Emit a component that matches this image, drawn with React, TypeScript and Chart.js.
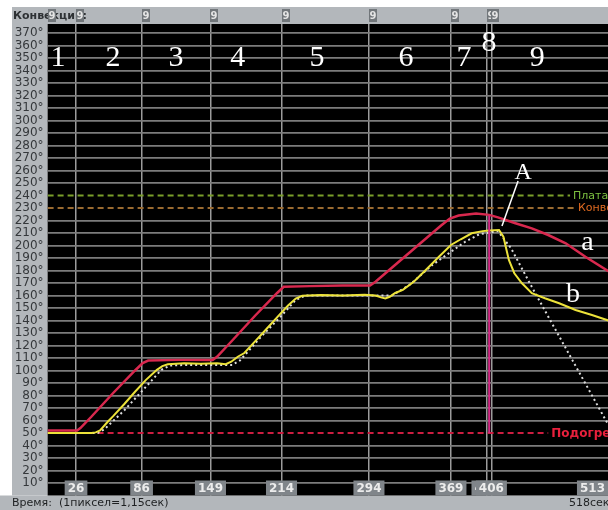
import React, { useEffect, useRef } from "react";
import { Chart, registerables } from "chart.js";

Chart.register(...registerables);

// ---- data (seconds, °C) ----
const redTimes = [0, 27, 30, 40, 60, 80, 87, 92, 120, 151, 155, 170, 190, 210, 216, 240, 270, 295, 300, 320, 340, 360, 368, 376, 392, 404, 412, 428, 443, 458, 474, 492, 513];
const redTemps = [52, 52, 54, 63, 82, 100, 106, 108, 108.5, 108.5, 111, 125, 144, 162, 167, 167.5, 168, 168, 171, 186, 201, 216, 221.5, 224, 225.5, 224.5, 222.5, 217.8, 213.7, 208.4, 201.8, 191, 179.5];

const yellowTimes = [0, 40, 44, 48, 55, 60, 70, 80, 90, 100, 105, 110, 125, 140, 155, 163, 168, 174, 180, 190, 200, 212, 220, 227, 233, 250, 270, 290, 300, 305, 309, 313, 318, 325, 335, 346, 358, 369, 378, 388, 398, 404, 413, 417, 422, 427, 434, 443, 455, 468, 483, 498, 513];
const yellowTemps = [50, 50, 50.5, 52, 59, 63.5, 73, 83, 92.5, 100.5, 103.5, 105, 105.8, 105.5, 105.8, 105, 107, 111, 114, 123.5, 133, 144.5, 152, 157.5, 159.8, 160.3, 160, 160.5, 160, 158.5, 157.7, 159, 162, 164.5, 171, 180.4, 191, 200.4, 205, 209.8, 211.5, 212, 212.4, 207, 188.4, 177.8, 169.8, 161.8, 157.8, 153.8, 148.4, 144.4, 140];

const profileTimes = [0, 46, 52, 70, 90, 104, 112, 130, 150, 169, 176, 194, 212, 227, 236, 260, 290, 315, 331, 352, 382, 395, 412, 424, 440, 460, 480, 500, 513];
const profileTemps = [50, 50, 53, 68, 87, 100.5, 104, 104.5, 104.5, 104.5, 108, 125.8, 142, 156.4, 160, 160, 160, 160, 168.4, 184.4, 203, 209, 211.5, 197.8, 171.7, 140, 108.5, 77, 56.5];

const cutoffTimes = [404, 404];
const cutoffTemps = [224, 50];

const pointerTimes = [430.4, 415.7];
const pointerTemps = [251.6, 215.6];

const refNames = ["Плата", "Конвекция", "Подогрев"];
const refTemps = [240, 230, 50];
const refEndTimes = [478, 482.5, 458];

const xTickValues = [26, 86, 149, 214, 294, 369, 402, 406, 513];
const markerTimes = [0, 26, 86, 149, 214, 294, 369, 402, 406];

const zoneNames = ["1", "2", "3", "4", "5", "6", "7", "8", "9"];
const zoneTimes = [9.5, 59.8, 117.5, 174, 246.5, 328, 381, 403.8, 448];
const zoneTemps = [350, 350, 350, 350, 350, 350, 350, 362, 350];

const curveNames = ["a", "b", "A"];
const curveLabelTimes = [494, 480.7, 435];
const curveLabelTemps = [202, 160.4, 258];

const topText = "Конвекции:";
const bottomText = "Время:  (1пиксел=1,15сек)";
const endText = "518сек";

// ---- styles ----
const FRAME = "#b3b7bb";
const BOX = "#80858a";
const refColors = ["#7a9e2a", "#9a6a30", "#cc1e40"];
const refTextColors = ["#7cc040", "#e06a20", "#e8203c"];

const pts = (xs: number[], ys: number[]) => xs.map((x, i) => ({ x, y: ys[i] }));

const framePlugin = {
  id: "frame",
  beforeDraw(chart: any) {
    const { ctx, chartArea: a, width, height } = chart;
    ctx.save();
    ctx.fillStyle = "#ffffff";
    ctx.fillRect(0, 0, width, height);
    ctx.fillStyle = FRAME;
    ctx.fillRect(12, 7, width - 12, a.top - 7);
    ctx.fillRect(12, 7, a.left - 12, a.bottom - 7);
    ctx.fillRect(0, a.bottom, width, height - a.bottom);
    ctx.fillStyle = "#000000";
    ctx.fillRect(a.left, a.top, a.right - a.left, a.bottom - a.top);
    ctx.restore();
  },
  afterDraw(chart: any) {
    const { ctx, chartArea: a, width } = chart;
    const xs = chart.scales.x;
    const ys = chart.scales.y;
    ctx.save();

    // zone numbers
    ctx.fillStyle = "#ffffff";
    ctx.textAlign = "center";
    ctx.textBaseline = "middle";
    ctx.font = '30px "Liberation Serif"';
    zoneNames.forEach((n, i) => {
      ctx.fillText(n, xs.getPixelForValue(zoneTimes[i]), ys.getPixelForValue(zoneTemps[i]));
    });

    // curve labels
    curveNames.forEach((n, i) => {
      ctx.font = n === "A" ? '24px "Liberation Serif"' : '28px "Liberation Serif"';
      ctx.fillText(n, xs.getPixelForValue(curveLabelTimes[i]), ys.getPixelForValue(curveLabelTemps[i]));
    });

    // reference line labels
    ctx.textAlign = "left";
    refNames.forEach((n, i) => {
      ctx.fillStyle = refTextColors[i];
      ctx.font = i === 2 ? 'bold 12px "DejaVu Sans"' : '11px "DejaVu Sans"';
      ctx.fillText(n, xs.getPixelForValue(refEndTimes[i]) + 3, ys.getPixelForValue(refTemps[i]) + 0.5);
    });

    // top bar
    ctx.fillStyle = "#2e3134";
    ctx.font = 'bold 11px "DejaVu Sans"';
    ctx.fillText(topText, 13, 16);
    ctx.font = 'bold 10px "DejaVu Sans"';
    markerTimes.forEach((t) => {
      const px = Math.round(xs.getPixelForValue(t));
      ctx.fillStyle = "#71767a";
      ctx.fillRect(px, 9, 8, 13);
      ctx.fillStyle = "#e4e4e4";
      ctx.textAlign = "center";
      ctx.fillText("9", px + 4, 16);
    });

    // bottom tick boxes
    ctx.font = 'bold 12px "DejaVu Sans"';
    xTickValues.forEach((t) => {
      const label = String(t);
      const w = ctx.measureText(label).width + 6;
      const cx = xs.getPixelForValue(t);
      const left = Math.min(cx - w / 2, width - w);
      ctx.fillStyle = BOX;
      ctx.fillRect(left, a.bottom - 15, w, 15);
      ctx.fillStyle = "#ececec";
      ctx.textAlign = "center";
      ctx.fillText(label, left + w / 2, a.bottom - 7);
    });

    // bottom bar text
    ctx.fillStyle = "#1e2022";
    ctx.textAlign = "left";
    ctx.font = '11px "DejaVu Sans"';
    ctx.fillText(bottomText, 12, a.bottom + 8);
    ctx.fillText(endText, 569, a.bottom + 8);

    ctx.restore();
  },
};

export default function App() {
  const ref = useRef<HTMLCanvasElement>(null);

  useEffect(() => {
    const canvas = ref.current!;
    const refDatasets = refNames.map((n, i) => ({
      label: n,
      data: pts([0, refEndTimes[i]], [refTemps[i], refTemps[i]]),
      borderColor: refColors[i],
      borderWidth: 2,
      borderDash: [6, 4],
      pointRadius: 0,
    }));
    const chart = new Chart(canvas, {
      type: "line",
      data: {
        datasets: [
          { label: "pointer", data: pts(pointerTimes, pointerTemps), borderColor: "#ffffff", borderWidth: 1.5, pointRadius: 0 },
          { label: "cutoff", data: pts(cutoffTimes, cutoffTemps), borderColor: "#d42a86", borderWidth: 2, pointRadius: 0 },
          { label: "b", data: pts(yellowTimes, yellowTemps), borderColor: "#ece23a", borderWidth: 2, pointRadius: 0 },
          { label: "a", data: pts(redTimes, redTemps), borderColor: "#d8284e", borderWidth: 2.5, pointRadius: 0 },
          { label: "profile", data: pts(profileTimes, profileTemps), borderColor: "#dcdcdc", borderWidth: 2, borderDash: [2, 3], pointRadius: 0 },
          ...refDatasets,
        ] as any,
      },
      options: {
        responsive: false,
        animation: false,
        devicePixelRatio: 1,
        layout: { padding: { left: 12, top: 24, right: 0, bottom: 14.5 } },
        plugins: { legend: { display: false }, tooltip: { enabled: false } },
        elements: { line: { tension: 0 }, point: { radius: 0 } },
        scales: {
          x: {
            type: "linear",
            min: 0,
            max: 512.7,
            border: { display: false },
            grid: { color: "#9c9c9c", lineWidth: 1.5, drawTicks: false },
            ticks: { display: false },
            afterBuildTicks: (s: any) => {
              s.ticks = xTickValues.map((v) => ({ value: v }));
            },
            afterFit: (s: any) => {
              s.height = 0;
            },
          },
          y: {
            type: "linear",
            min: 0,
            max: 377.2,
            border: { display: false },
            grid: {
              color: (c: any) => (c.tick && refTemps.includes(c.tick.value) ? "rgba(0,0,0,0)" : "#7c7c7c"),
              lineWidth: 1.8,
              drawTicks: false,
            },
            ticks: {
              stepSize: 10,
              includeBounds: false,
              autoSkip: false,
              padding: 4,
              color: "#35383b",
              font: { family: "DejaVu Sans", size: 12 },
              callback: (v: any) => v + "°",
            },
            afterBuildTicks: (s: any) => {
              s.ticks = s.ticks.filter((t: any) => t.value >= 10 && t.value <= 370);
            },
            afterFit: (s: any) => {
              s.width = 35.6;
            },
          },
        },
      },
      plugins: [framePlugin],
    } as any);
    return () => chart.destroy();
  }, []);

  return (
    <div style={{ position: "fixed", left: 0, top: 0, width: 608, height: 510 }}>
      <canvas ref={ref} width={608} height={510} style={{ display: "block", width: 608, height: 510 }} />
    </div>
  );
}
